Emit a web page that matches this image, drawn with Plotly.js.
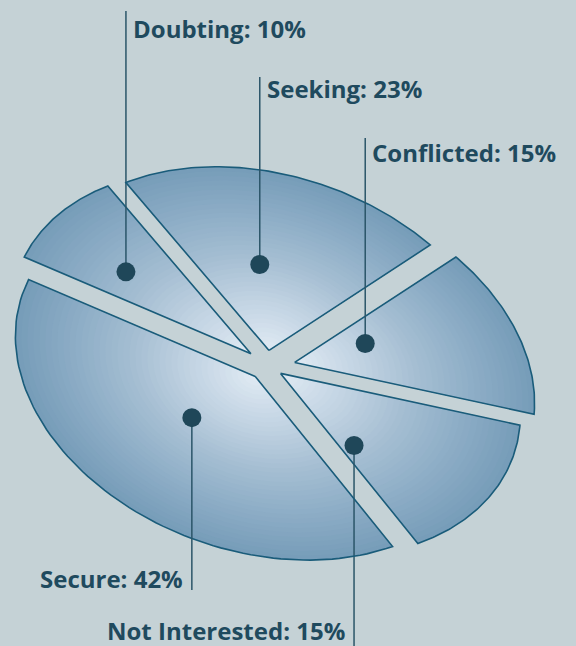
<!DOCTYPE html>
<html><head><meta charset="utf-8">
<script src="https://cdn.plot.ly/plotly-3.0.1.min.js"></script>
<style>html,body{margin:0;padding:0;background:#c5d2d6;}</style>
</head><body><div id="chart" style="width:576px;height:646px;"></div>
<script>
// ---- data ----
const categories = ["Doubting", "Seeking", "Conflicted", "Not Interested", "Secure"];
const values = [10, 23, 15, 15, 42];

// ---- geometry / style config ----
const geo = {cx: 268, cy: 366, A: 247, B: 174, tilt: 19.6, start: -175};
const pull = [0.088, 0.088, 0.12, 0.06, 0.088];
const labelFrac = [0.42, 0.42, 0.38, 0.81, 0.53];
const labelRad = [0.71, 0.56, 0.46, 0.51, 0.48];
const leaderEnd = [11, 77, 138, 646, 590];
const labelY = [28, 88, 152, 630, 578];
const stops = [[0, [224,234,243]], [0.25, [196,213,228]], [0.5, [166,191,211]], [0.75, [141,173,198]], [1, [118,156,184]]];
const BG = "#c5d2d6", OUTLINE = "#1a5c7a", DOT = "#1f4759", TEXT = "#1f4a5e";

const D2R = Math.PI / 180;
function toImg(px, py) {
  const a = geo.tilt * D2R, X = geo.A * px, Y = geo.B * py;
  return [geo.cx + X * Math.cos(a) - Y * Math.sin(a), geo.cy + X * Math.sin(a) + Y * Math.cos(a)];
}
function colorAt(r) {
  for (let i = 1; i < stops.length; i++) {
    if (r <= stops[i][0]) {
      const f = (r - stops[i-1][0]) / (stops[i][0] - stops[i-1][0]);
      const c = stops[i-1][1].map((v, k) => Math.round(v + f * (stops[i][1][k] - v)));
      return "rgb(" + c.join(",") + ")";
    }
  }
  return "rgb(" + stops[stops.length-1][1].join(",") + ")";
}

const total = values.reduce((a, b) => a + b, 0);
const traces = [];
const outlines = [];
const dots = {x: [], y: []};
const annotations = [];
let t0 = geo.start;
const NB = 40;
values.forEach((v, i) => {
  const span = v / total * 360, t1 = t0 + span, mid = (t0 + t1) / 2;
  const ux = pull[i] * Math.cos(mid * D2R), uy = pull[i] * Math.sin(mid * D2R);
  function wedge(r) {
    const xs = [], ys = [];
    let p = toImg(ux, uy); xs.push(p[0]); ys.push(p[1]);
    const n = 80;
    for (let k = 0; k <= n; k++) {
      const t = (t0 + span * k / n) * D2R;
      p = toImg(ux + r * Math.cos(t), uy + r * Math.sin(t));
      xs.push(p[0]); ys.push(p[1]);
    }
    p = toImg(ux, uy); xs.push(p[0]); ys.push(p[1]);
    return [xs, ys];
  }
  for (let j = 0; j < NB; j++) {
    const r = 1 - j / NB;
    const w = wedge(r);
    traces.push({type: "scatter", mode: "lines", x: w[0], y: w[1], fill: "toself",
      fillcolor: colorAt(r - 0.5 / NB), line: {width: 0, color: "rgba(0,0,0,0)"},
      hoverinfo: "skip", showlegend: false});
  }
  const o = wedge(1);
  outlines.push({type: "scatter", mode: "lines", x: o[0], y: o[1],
    line: {width: 1.6, color: OUTLINE}, hoverinfo: "skip", showlegend: false});
  // label anchor
  const tl = (t0 + span * labelFrac[i]) * D2R;
  const d = toImg(labelRad[i] * Math.cos(tl), labelRad[i] * Math.sin(tl));
  dots.x.push(d[0]); dots.y.push(d[1]);
  const up = leaderEnd[i] < d[1];
  outlines.push({type: "scatter", mode: "lines", x: [d[0], d[0]], y: [d[1], leaderEnd[i]],
    line: {width: 1.5, color: "#2b5569"}, hoverinfo: "skip", showlegend: false});
  annotations.push({x: up ? d[0] + 5 : d[0] - 7, y: labelY[i], xref: "x", yref: "y",
    text: categories[i] + ": " + v + "%", showarrow: false,
    xanchor: up ? "left" : "right", yanchor: "middle",
    font: {family: "Open Sans", size: 24, color: TEXT, weight: 700}});
  t0 = t1;
});
const dotTrace = {type: "scatter", mode: "markers", x: dots.x, y: dots.y,
  marker: {size: 19, color: DOT, line: {width: 0}}, hoverinfo: "skip", showlegend: false};

const layout = {
  width: 576, height: 646, margin: {l: 0, r: 0, t: 0, b: 0},
  paper_bgcolor: BG, plot_bgcolor: BG, showlegend: false,
  xaxis: {range: [0, 576], visible: false, fixedrange: true},
  yaxis: {range: [646, 0], visible: false, fixedrange: true},
  annotations: annotations
};
Plotly.newPlot("chart", traces.concat(outlines, [dotTrace]), layout, {staticPlot: true, displayModeBar: false});
</script>
</body></html>
